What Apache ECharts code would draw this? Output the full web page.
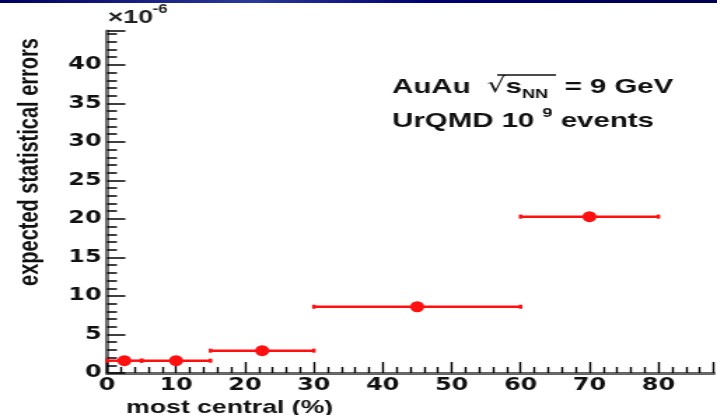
<!DOCTYPE html>
<html>
<head>
<meta charset="utf-8">
<script src="https://cdn.jsdelivr.net/npm/echarts@6/dist/echarts.min.js"></script>
<style>
html, body { margin: 0; padding: 0; background: #fff; overflow: hidden; }
/* the original plot is stretched horizontally, so draw narrow and stretch */
#chart { position: absolute; left: 0; top: 0; width: 512px; height: 415px; transform: scaleX(1.4004); transform-origin: 0 0; }
</style>
</head>
<body>
<div id="chart"></div>
<script>
// centrality bins (%)
var binCenters = [2.5, 10, 22.5, 45, 70];
var binLow = [0, 5, 15, 30, 60];
var binHigh = [5, 15, 30, 60, 80];
// expected statistical errors (x 1e-6)
var errValues = [1.6, 1.6, 2.9, 8.6, 20.3];

var xMax = 88;
var yMax = 44.4;

var RED = '#ff1010';
var LBL = 'DejaVu Sans';
var TXT = 'Liberation Sans';

function initGraph(chartId) {
	var dom = document.getElementById(chartId);
	var myChart = echarts.init(dom);

	var barData = binLow.map(function(lo, i) {
		return [lo, binHigh[i], errValues[i]];
	});
	var pointData = binCenters.map(function(c, i) {
		return [c, errValues[i]];
	});

	var option = {
		animation: false,
		backgroundColor: '#fff',
		grid: {
			left: 76.5,
			right: 2.5,
			top: 31,
			bottom: 42
		},
		xAxis: [{
			type: 'value',
			min: 0,
			max: xMax,
			interval: 10,
			position: 'bottom',
			axisLine: { lineStyle: { color: '#000', width: 2.5 } },
			axisTick: { inside: true, length: 11, lineStyle: { color: '#000', width: 1.4 } },
			minorTick: { show: true, splitNumber: 5, length: 6, lineStyle: { color: '#000', width: 1.4 } },
			axisLabel: {
				margin: 4,
				color: '#111',
				fontFamily: LBL,
				fontWeight: 'bold',
				fontSize: 17,
				showMaxLabel: false
			},
			splitLine: { show: false }
		}, {
			type: 'value',
			min: 0,
			max: xMax,
			position: 'top',
			axisLine: { lineStyle: { color: '#6e6e6e', width: 2.5 } },
			axisTick: { show: false },
			axisLabel: { show: false },
			splitLine: { show: false }
		}],
		yAxis: [{
			type: 'value',
			min: 0,
			max: yMax,
			interval: 5,
			position: 'left',
			axisLine: { lineStyle: { color: '#000', width: 2 } },
			axisTick: { inside: true, length: 13, lineStyle: { color: '#000', width: 1.5 } },
			minorTick: { show: true, splitNumber: 5, length: 7, lineStyle: { color: '#000', width: 1.5 } },
			axisLabel: {
				margin: 4,
				color: '#111',
				fontFamily: LBL,
				fontWeight: 'bold',
				fontSize: 17,
				showMaxLabel: false
			},
			splitLine: { show: false }
		}, {
			type: 'value',
			min: 0,
			max: yMax,
			position: 'right',
			axisLine: { show: true, lineStyle: { color: '#6e6e6e', width: 3 } },
			axisTick: { show: false },
			axisLabel: { show: false },
			splitLine: { show: false }
		}],
		series: [{
			name: 'bins',
			type: 'custom',
			xAxisIndex: 0,
			yAxisIndex: 0,
			data: barData,
			encode: { x: [0, 1], y: 2 },
			renderItem: function(params, api) {
				var p0 = api.coord([api.value(0), api.value(2)]);
				var p1 = api.coord([api.value(1), api.value(2)]);
				var st = { stroke: RED, lineWidth: 2.5 };
				return {
					type: 'group',
					children: [
						{ type: 'line', shape: { x1: p0[0], y1: p0[1], x2: p1[0], y2: p1[1] }, style: st },
						{ type: 'line', shape: { x1: p0[0], y1: p0[1] - 2, x2: p0[0], y2: p0[1] + 2 }, style: st },
						{ type: 'line', shape: { x1: p1[0], y1: p1[1] - 2, x2: p1[0], y2: p1[1] + 2 }, style: st }
					]
				};
			},
			z: 2
		}, {
			name: 'errors',
			type: 'scatter',
			xAxisIndex: 0,
			yAxisIndex: 0,
			data: pointData,
			symbol: 'circle',
			symbolSize: [10, 11],
			itemStyle: { color: RED, opacity: 1 },
			z: 3
		}],
		graphic: [{
			// slide header strip
			type: 'rect',
			x: 0, y: 0,
			shape: { width: 512, height: 3 },
			style: {
				fill: {
					type: 'linear', x: 0, y: 0, x2: 1, y2: 0,
					colorStops: [
						{ offset: 0, color: '#000060' },
						{ offset: 0.35, color: '#2a3a9a' },
						{ offset: 0.6, color: '#000070' },
						{ offset: 1, color: '#000050' }
					]
				}
			}
		}, {
			type: 'text',
			x: 77, y: 8,
			style: { text: '×10', fontFamily: TXT, fontWeight: 'bold', fontSize: 19, fill: '#222', align: 'left', verticalAlign: 'top', textAlign: 'left', textVerticalAlign: 'top' }
		}, {
			type: 'text',
			x: 109, y: 4,
			style: { text: '-6', fontFamily: TXT, fontWeight: 'bold', fontSize: 12, fill: '#222', align: 'left', verticalAlign: 'top', textAlign: 'left', textVerticalAlign: 'top' }
		}, {
			type: 'text',
			x: 21.5, y: 162,
			rotation: Math.PI / 2,
			style: { text: 'expected statistical errors', fontFamily: TXT, fontWeight: 'bold', fontSize: 20, fill: '#111', align: 'center', verticalAlign: 'middle', textAlign: 'center', textVerticalAlign: 'middle' }
		}, {
			type: 'text',
			x: 164, y: 398,
			style: { text: 'most central (%)', fontFamily: TXT, fontWeight: 'bold', fontSize: 19, fill: '#111', align: 'center', verticalAlign: 'top', textAlign: 'center', textVerticalAlign: 'top' }
		}, {
			type: 'text',
			x: 280, y: 87,
			style: {
				text: '{a|AuAu  }{r|√}{a|s}{s|NN}{a|  = 9 GeV}',
				align: 'left', verticalAlign: 'middle', textAlign: 'left', textVerticalAlign: 'middle',
				rich: {
					a: { fontFamily: TXT, fontWeight: 'bold', fontSize: 21, lineHeight: 28, fill: '#111', color: '#111' },
					r: { fontFamily: 'DejaVu Sans', fontWeight: 'normal', fontSize: 21, lineHeight: 28, fill: '#111', color: '#111' },
					s: { fontFamily: TXT, fontWeight: 'bold', fontSize: 13, lineHeight: 14, verticalAlign: 'bottom', fill: '#111', color: '#111' }
				}
			}
		}, {
			type: 'line',
			shape: { x1: 355, y1: 75, x2: 397, y2: 75 },
			style: { stroke: '#111', lineWidth: 1.3 }
		}, {
			type: 'text',
			x: 280, y: 121,
			style: {
				text: '{a|UrQMD 10 }{u|9}{a| events}',
				align: 'left', verticalAlign: 'middle', textAlign: 'left', textVerticalAlign: 'middle',
				rich: {
					a: { fontFamily: TXT, fontWeight: 'bold', fontSize: 21, lineHeight: 28, fill: '#111', color: '#111' },
					u: { fontFamily: TXT, fontWeight: 'bold', fontSize: 13, lineHeight: 14, verticalAlign: 'top', fill: '#111', color: '#111' }
				}
			}
		}]
	};

	if (option && typeof option === "object") {
		myChart.setOption(option, true);
	}
}

onload = function() {
	initGraph('chart');
}
</script>
</body>
</html>
